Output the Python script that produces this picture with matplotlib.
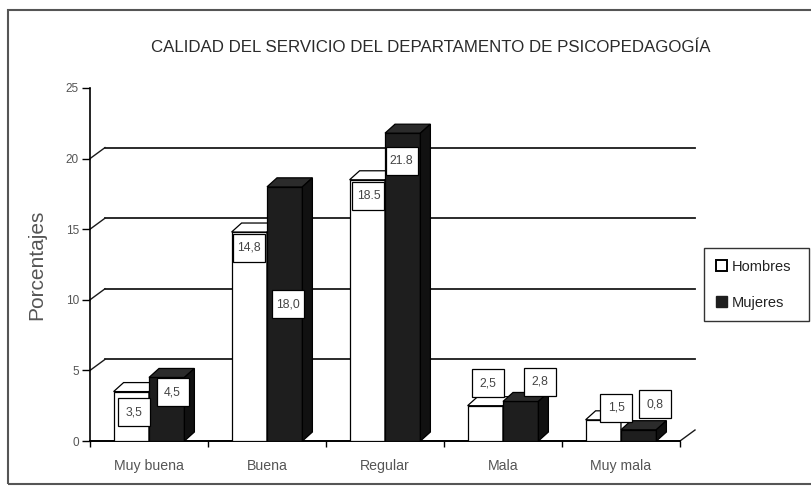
import matplotlib
matplotlib.use("Agg")
import matplotlib.pyplot as plt
from matplotlib.patches import Polygon, Rectangle, Patch
import matplotlib.transforms as mtransforms
import numpy as np

# ---- data ----
categories = ["Muy buena", "Buena", "Regular", "Mala", "Muy mala"]
hombres = [3.5, 14.8, 18.5, 2.5, 1.5]
mujeres = [4.5, 18.0, 21.8, 2.8, 0.8]
hombres_labels = ["3,5", "14,8", "18.5", "2,5", "1,5"]
mujeres_labels = ["4,5", "18,0", "21.8", "2,8", "0,8"]
yticks = [0, 5, 10, 15, 20, 25]
title = "CALIDAD DEL SERVICIO DEL DEPARTAMENTO DE PSICOPEDAGOGÍA"
ylabel = "Porcentajes"
series_names = ["Hombres", "Mujeres"]

# ---- layout (label placement offsets, in axis units) ----
h_lab_dx = [-0.13, -0.15, -0.14, -0.13, -0.04]
h_lab_dy = [-1.45, -1.10, -1.15, 1.60, 0.85]
m_lab_dx = [0.20, 0.18, 0.14, 0.31, 0.29]
m_lab_dy = [-1.05, -8.30, -2.00, 1.40, 1.80]

W, H = 812, 487
fig = plt.figure(figsize=(W / 100, H / 100), dpi=100)
fig.patch.set_facecolor("white")

FONT = ["Liberation Sans", "DejaVu Sans"]

ax = fig.add_axes([90 / W, (H - 441) / H, 590 / W, 353 / H])
ax.set_xlim(-0.5, 4.5)
ax.set_ylim(0, 25)
ax.set_facecolor("none")
for s in ["top", "right"]:
    ax.spines[s].set_visible(False)
ax.spines["left"].set_linewidth(1.2)
ax.spines["bottom"].set_linewidth(1.4)

# wall depth offsets
wdx, wdy = 15 / 118.0, 11 / 14.12
bw = 0.3
bdx, bdy = 10 / 118.0, 9 / 14.12

# back gridlines
for v in yticks[1:-1]:
    ax.plot([-0.5 + wdx, 4.5 + wdx], [v + wdy, v + wdy], color="#1a1a1a", lw=1.3,
            clip_on=False, zorder=1)
    ax.plot([-0.5, -0.5 + wdx], [v, v + wdy], color="#1a1a1a", lw=1.0,
            clip_on=False, zorder=1)
ax.plot([4.5, 4.5 + wdx], [0, wdy], color="#1a1a1a", lw=1.0, clip_on=False, zorder=1)


def draw_bar(x0, val, front, side, top):
    ax.bar(x0, val, width=bw, align="edge", color=front, edgecolor="black",
           linewidth=0.9, zorder=3)
    ax.add_patch(Polygon([[x0, val], [x0 + bdx, val + bdy], [x0 + bw + bdx, val + bdy],
                          [x0 + bw, val]], closed=True, fc=top, ec="black", lw=0.9,
                         zorder=3, clip_on=False))
    ax.add_patch(Polygon([[x0 + bw, 0], [x0 + bw + bdx, bdy], [x0 + bw + bdx, val + bdy],
                          [x0 + bw, val]], closed=True, fc=side, ec="black", lw=0.9,
                         zorder=3, clip_on=False))


x = np.arange(len(categories))
for i in range(len(categories)):
    draw_bar(x[i] - bw, hombres[i], "white", "white", "white")
    draw_bar(x[i], mujeres[i], "#1e1e1e", "#111111", "#2b2b2b")


def value_label(xd, yd, s):
    tr = fig.dpi_scale_trans + mtransforms.ScaledTranslation(xd, yd, ax.transData)
    ax.add_patch(Rectangle((-0.16, -0.14), 0.32, 0.28, transform=tr, fc="white",
                           ec="black", lw=0.9, zorder=6, clip_on=False))
    ax.text(xd, yd, s, ha="center", va="center", fontsize=8.8, color="#444444",
            zorder=7, family=FONT)


for i in range(len(categories)):
    value_label(x[i] + h_lab_dx[i], hombres[i] + h_lab_dy[i], hombres_labels[i])
    value_label(x[i] + m_lab_dx[i], mujeres[i] + m_lab_dy[i], mujeres_labels[i])

# ticks
ax.set_yticks(yticks)
ax.set_yticklabels([str(t) for t in yticks], fontsize=8.5, color="#555555", family=FONT)
ax.tick_params(axis="y", direction="out", length=6, width=1.0, pad=2)
ax.set_xticks(x)
ax.set_xticklabels(categories, fontsize=10.2, color="#555555", family=FONT)
ax.tick_params(axis="x", which="major", length=0, pad=13)
ax.set_xticks(np.arange(-0.5, 4.6, 1.0), minor=True)
ax.tick_params(axis="x", which="minor", direction="out", length=4, width=1.0)

ax.set_ylabel(ylabel, fontsize=15, color="#555555", family=FONT, labelpad=14)

fig.text(431 / W, 1 - 47 / H, title, ha="center", va="center", fontsize=12.2,
         color="#2a2a2a", family=FONT)

handles = [Patch(fc="white", ec="black", lw=1.4), Patch(fc="#1e1e1e", ec="#1e1e1e")]
leg = fig.legend(handles, series_names, loc="upper left",
                 bbox_to_anchor=(704 / W, 1 - 248 / H - 0.01, 105 / W, 0.01), mode="expand",
                 borderaxespad=0, frameon=True, fancybox=False,
                 edgecolor="black", handlelength=0.75, handleheight=0.75,
                 handletextpad=0.35, labelspacing=1.5, borderpad=0.8,
                 prop={"family": FONT, "size": 10.5})
leg.get_frame().set_linewidth(1.0)
for t in leg.get_texts():
    t.set_color("#222222")

# outer frame
fig.add_artist(Rectangle((8 / W, 3 / H), 820 / W, (H - 13) / H,
                         transform=fig.transFigure, fill=False, ec="#555555", lw=1.5))

fig.savefig("out.png", dpi=100)
